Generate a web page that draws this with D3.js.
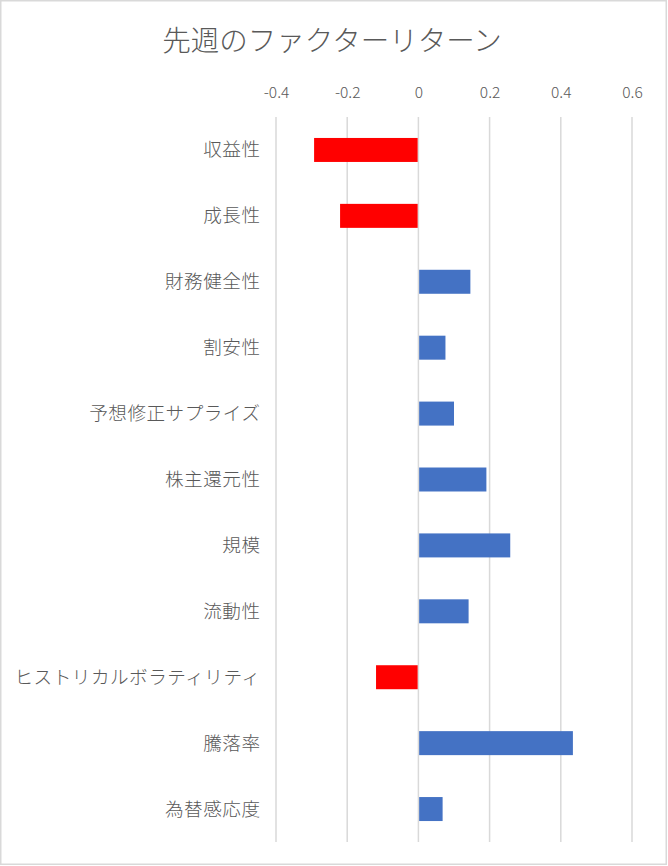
<!DOCTYPE html>
<html><head><meta charset="utf-8">
<script src="https://cdn.jsdelivr.net/npm/d3@7"></script>
<style>
html,body{margin:0;padding:0;background:#fff;}
svg{display:block;font-family:"Noto Sans CJK JP Light","Noto Sans CJK JP","Noto Sans",sans-serif;font-weight:300;}
</style></head>
<body>
<svg id="chart" width="668" height="866"></svg>
<script>
const title = "先週のファクターリターン";
const categories = ["収益性","成長性","財務健全性","割安性","予想修正サプライズ","株主還元性","規模","流動性","ヒストリカルボラティリティ","騰落率","為替感応度"];
const values = [-0.293,-0.22,0.146,0.076,0.10,0.191,0.258,0.141,-0.119,0.434,0.068];
const tickValues = [-0.4,-0.2,0,0.2,0.4,0.6];
const tickLabels = ["-0.4","-0.2","0","0.2","0.4","0.6"];

const svg = d3.select("#chart");
svg.append("rect").attr("x",0.75).attr("y",0.75).attr("width",665.5).attr("height",863.5)
  .attr("fill","#fff").attr("stroke","#d9d9d9").attr("stroke-width",1.5);

const x = d3.scaleLinear().domain([-0.4,0.6]).range([276,632]);
const y = d3.scaleBand().domain(categories).range([117,842]).paddingInner(0.636).paddingOuter(0.318);

svg.append("text").attr("x",332).attr("y",51).attr("text-anchor","middle")
  .attr("font-size",28.5).attr("fill","#595959").text(title);

// gridlines
svg.append("g").selectAll("line").data(tickValues).join("line")
  .attr("x1",d=>x(d)).attr("x2",d=>x(d)).attr("y1",117).attr("y2",842)
  .attr("stroke","#d9d9d9").attr("stroke-width",1.5);

// top axis labels
const axis = d3.axisTop(x).tickValues(tickValues).tickFormat((d,i)=>tickLabels[i]).tickSize(0).tickPadding(0);
const ag = svg.append("g").attr("transform","translate(0,98)").call(axis);
ag.select(".domain").remove();
ag.selectAll("text").attr("font-size",15.5).attr("fill","#595959")
  .attr("font-family","'Noto Sans CJK JP Light','Noto Sans CJK JP','Noto Sans',sans-serif").attr("font-weight",300).attr("dy",0);

// bars
svg.append("g").selectAll("rect").data(categories).join("rect")
  .attr("x",(d,i)=> values[i] < 0 ? x(values[i]) : x(0)+0.75)
  .attr("width",(d,i)=> values[i] < 0 ? x(0)-0.75-x(values[i]) : x(values[i])-x(0)-0.75)
  .attr("y",d=>y(d)).attr("height",y.bandwidth())
  .attr("fill",(d,i)=> values[i] < 0 ? "#ff0000" : "#4472c4");

// category labels
svg.append("g").selectAll("text").data(categories).join("text")
  .attr("x",260.5).attr("y",d=>y(d)+y.bandwidth()/2-2)
  .attr("text-anchor","end").attr("dominant-baseline","central")
  .attr("letter-spacing",0.5)
  .attr("font-size",18.6).attr("fill","#595959").text(d=>d);
</script>
</body></html>
